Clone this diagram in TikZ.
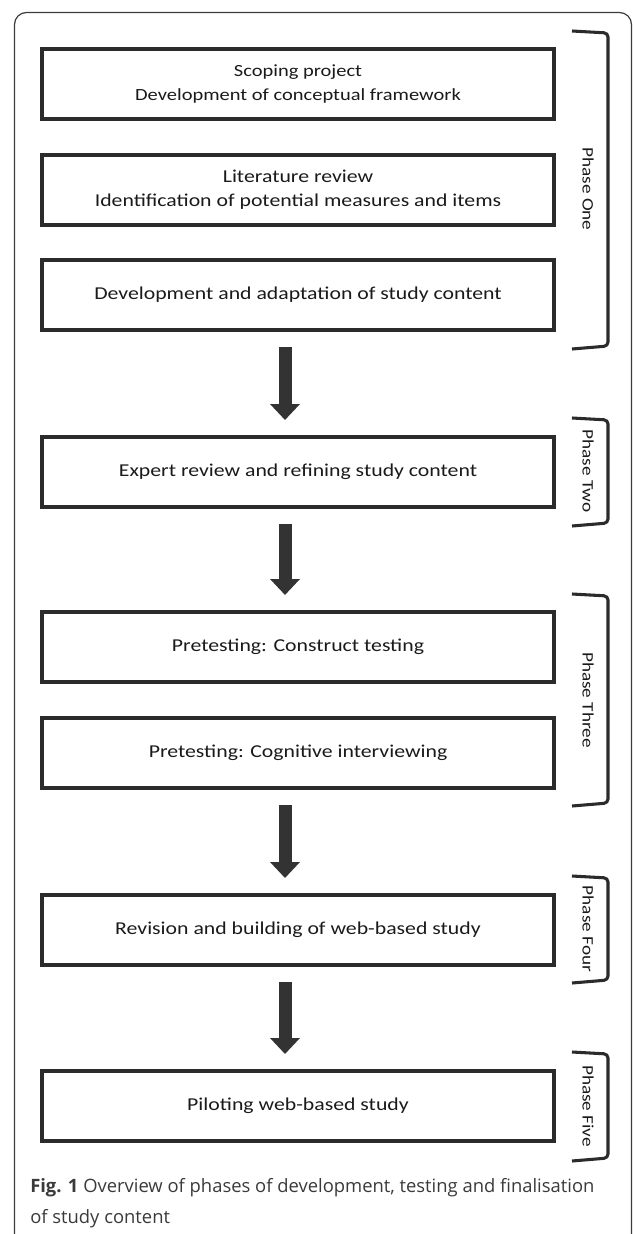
\documentclass[tikz,border=0pt]{standalone}
\usepackage{fontspec}
\setmainfont{Carlito}
\newfontfamily\boxfont[FakeStretch=1.2]{Carlito}
\newfontfamily\capfont{Open Sans}
\usetikzlibrary{arrows.meta}
\definecolor{boxgray}{HTML}{2B2B2B}
\definecolor{arrgray}{HTML}{333333}
\definecolor{txtgray}{HTML}{1A1A1A}
\definecolor{capgray}{HTML}{3A3A3A}
\definecolor{framegray}{HTML}{3C3C3C}
\begin{document}
\begin{tikzpicture}[x=0.75pt,y=-0.75pt,
  stepbox/.style={draw=boxgray, line width=3pt, minimum width=384pt, minimum height=53pt,
    align=center, font=\boxfont\fontsize{13.6}{18}\selectfont, text=txtgray, inner sep=0pt},
  smalltext/.style={font=\boxfont\fontsize{12.8}{18}\selectfont},
  blockarrow/.style={draw=arrgray, line width=9.75pt, -{Triangle[width=21.75pt,length=12pt]}},
  brack/.style={draw=boxgray, line width=2.3pt, rounded corners=3pt},
  phaselabel/.style={rotate=-90, font=\boxfont\fontsize{12}{14}\selectfont, text=txtgray, inner sep=0pt},
  captext/.style={anchor=base west, text=capgray, font=\capfont\fontsize{13.8}{17}\selectfont, inner sep=0pt}
]
\useasboundingbox (0,0) rectangle (633,1234);
% outer frame
\draw[framegray, line width=0.9pt, rounded corners=9pt] (14.5,12.5) rectangle (631.5,1262);

% boxes
\node[stepbox, smalltext] (b1) at (298,84) {Scoping project\\Development of conceptual framework};
\node[stepbox] (b2) at (298,190)  {Literature review\\Identification of potential measures and items};
\node[stepbox] (b3) at (298,295)  {Development and adaptation of study content};
\node[stepbox] (b4) at (298,472)  {Expert review and refining study content};
\node[stepbox] (b5) at (298,647)  {Pretesting: Construct testing};
\node[stepbox] (b6) at (298,753)  {Pretesting: Cognitive interviewing};
\node[stepbox] (b7) at (298,930)  {Revision and building of web-based study};
\node[stepbox] (b8) at (298,1106) {Piloting web-based study};

% arrows
\draw[blockarrow] ([xshift=-9.75pt,yshift=-11pt]b3.south) -- ([xshift=-9.75pt,yshift=11pt]b4.north);
\draw[blockarrow] ([xshift=-9.75pt,yshift=-11pt]b4.south) -- ([xshift=-9.75pt,yshift=11pt]b5.north);
\draw[blockarrow] ([xshift=-9.75pt,yshift=-11pt]b6.south) -- ([xshift=-9.75pt,yshift=11pt]b7.north);
\draw[blockarrow] ([xshift=-9.75pt,yshift=-11pt]b7.south) -- ([xshift=-9.75pt,yshift=11pt]b8.north);

% brackets and phase labels
\draw[brack] (572,31) -- (608,33) -- (608,346) -- (572,349);
\node[phaselabel] (p1) at (588,189) {Phase One};
\draw[brack] (572,418) -- (608,420) -- (608,523) -- (572,526);
\node[phaselabel] (p2) at (588,471) {Phase Two};
\draw[brack] (572,594) -- (608,596) -- (608,803) -- (572,806);
\node[phaselabel] (p3) at (588,700) {Phase Three};
\draw[brack] (572,876) -- (608,878) -- (608,980) -- (572,983);
\node[phaselabel] (p4) at (588,929) {Phase Four};
\draw[brack] (572,1052) -- (608,1054) -- (608,1158) -- (572,1161);
\node[phaselabel] (p5) at (588,1106) {Phase Five};

% caption
\node[captext] (cap1) at (30,1192) {\textbf{Fig. 1} Overview of phases of development, testing and finalisation};
\node[captext] (cap2) at (30,1223) {of study content};
\end{tikzpicture}
\end{document}
